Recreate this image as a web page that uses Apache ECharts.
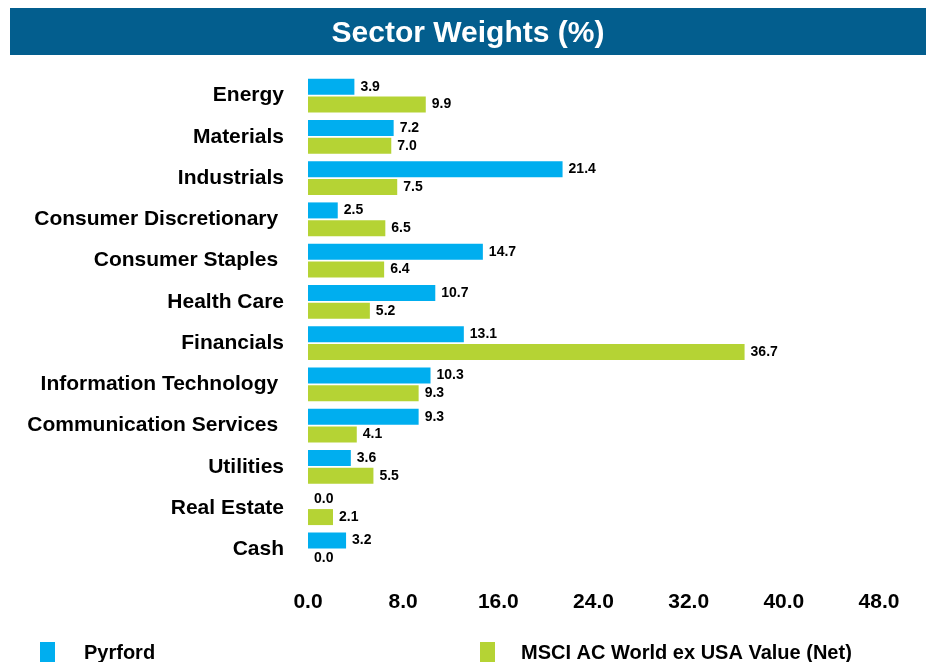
<!DOCTYPE html>
<html>
<head>
<meta charset="utf-8">
<script src="https://cdn.jsdelivr.net/npm/echarts@6/dist/echarts.min.js"></script>
<style>html,body{margin:0;padding:0;background:#fff;}#c{width:936px;height:662px;}</style>
</head>
<body>
<div id="c"></div>
<script>
const categories = ["Energy","Materials","Industrials","Consumer Discretionary ","Consumer Staples ","Health Care","Financials","Information Technology ","Communication Services ","Utilities","Real Estate","Cash"];
const pyrford = [3.9,7.2,21.4,2.5,14.7,10.7,13.1,10.3,9.3,3.6,0.0,3.2];
const msci = [9.9,7.0,7.5,6.5,6.4,5.2,36.7,9.3,4.1,5.5,2.1,0.0];
const xTicks = {min:0,max:48,interval:8};
const seriesNames = ["Pyrford","MSCI AC World ex USA Value (Net)"];

const chart = echarts.init(document.getElementById('c'));
const FONT = '"Liberation Sans", Arial, sans-serif';
const labelCfg = {show:true,position:'right',distance:6,color:'#000',fontWeight:'bold',fontSize:14,fontFamily:FONT,formatter:p=>p.value.toFixed(1)};
chart.setOption({
  animation:false,
  graphic:[{type:'rect',shape:{x:10,y:8,width:916,height:47},style:{fill:'#035e8e'},z:0}],
  title:{text:'Sector Weights (%)',left:'center',top:14,textStyle:{color:'#fff',fontSize:30,fontWeight:'bold',fontFamily:FONT}},
  legend:[
    {data:[seriesNames[0]],left:35,top:637,icon:'rect',itemWidth:15,itemHeight:22,textStyle:{fontSize:20,fontWeight:'bold',color:'#000',fontFamily:FONT,padding:[0,0,0,24]}},
    {data:[seriesNames[1]],left:475,top:637,icon:'rect',itemWidth:15,itemHeight:22,textStyle:{fontSize:20,fontWeight:'bold',color:'#000',fontFamily:FONT,padding:[0,0,0,21]}}
  ],
  grid:{left:308,right:57,top:75,bottom:92},
  xAxis:{type:'value',min:xTicks.min,max:xTicks.max,interval:xTicks.interval,
    axisLine:{show:false},axisTick:{show:false},splitLine:{show:false},
    axisLabel:{margin:22,fontSize:21,fontWeight:'bold',color:'#000',fontFamily:FONT,formatter:v=>v.toFixed(1)}},
  yAxis:{type:'category',data:categories,inverse:true,
    axisLine:{show:false},axisTick:{show:false},
    axisLabel:{margin:24,fontSize:21,fontWeight:'bold',color:'#000',fontFamily:FONT}},
  series:[
    {name:seriesNames[0],type:'bar',data:pyrford,barWidth:16,barGap:'12%',itemStyle:{color:'#00aeef'},label:labelCfg},
    {name:seriesNames[1],type:'bar',data:msci,barWidth:16,barGap:'12%',itemStyle:{color:'#b5d334'},label:labelCfg}
  ]
});
</script>
</body>
</html>
